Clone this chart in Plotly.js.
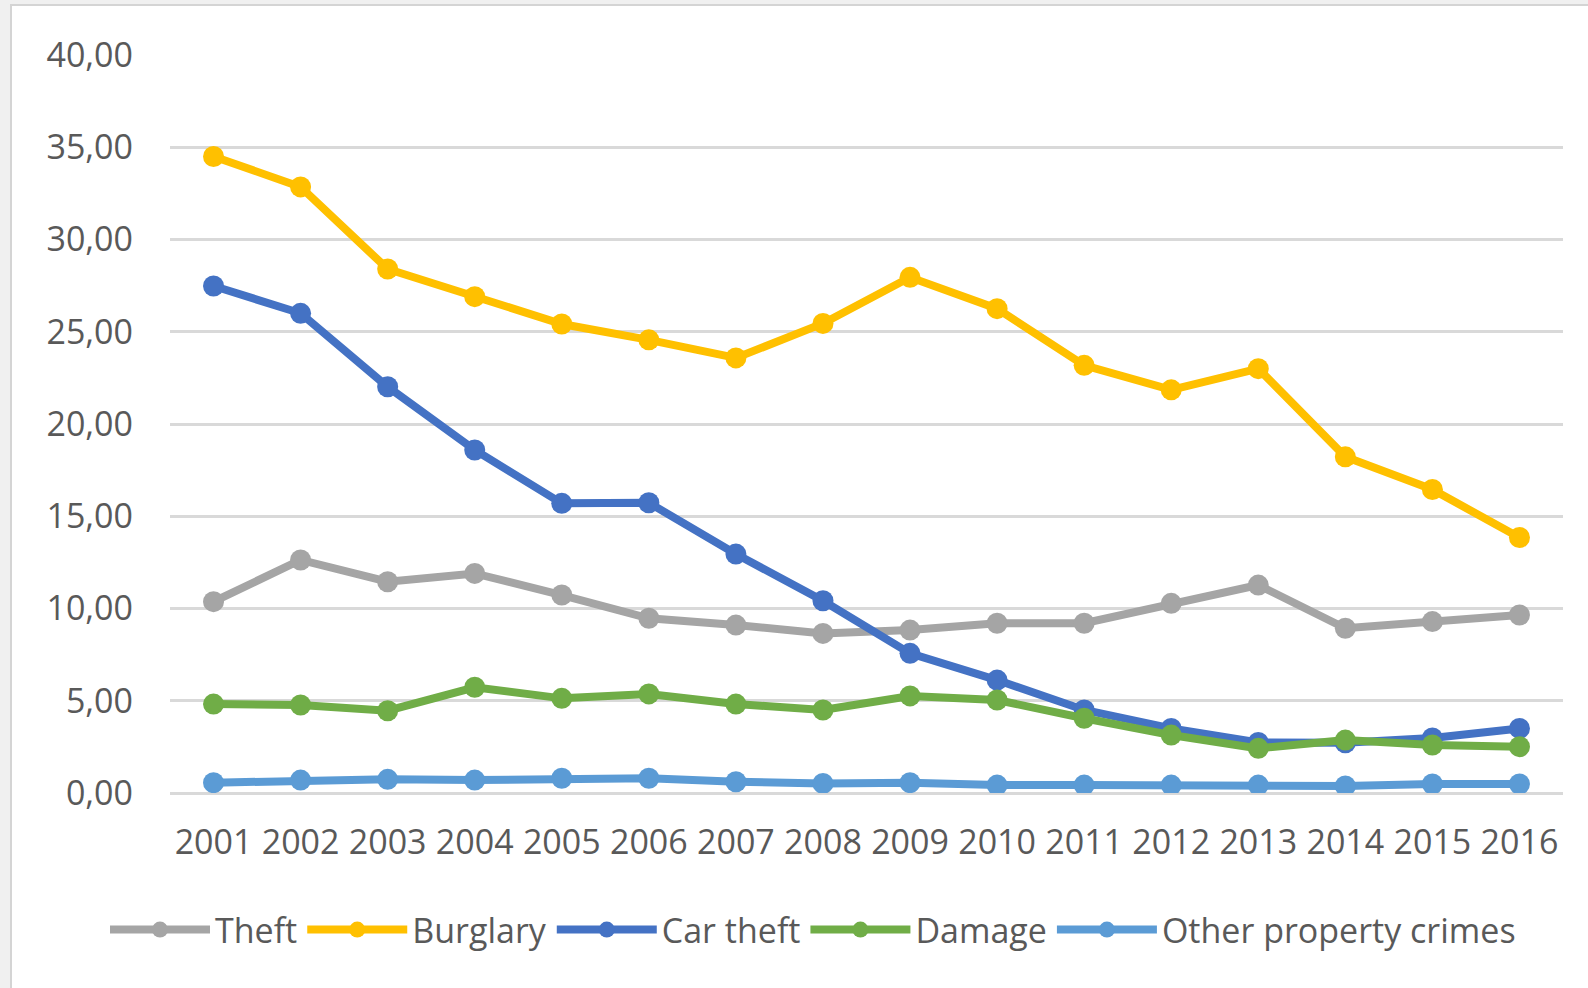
<!DOCTYPE html>
<html>
<head>
<meta charset="utf-8">
<script src="https://cdn.plot.ly/plotly-3.0.1.min.js"></script>
<style>
  html, body { margin: 0; padding: 0; background: #ffffff; }
  #chart { width: 1588px; height: 988px; }
</style>
</head>
<body>
<div id="chart"></div>
<script>
const years = ['2001','2002','2003','2004','2005','2006','2007','2008','2009','2010','2011','2012','2013','2014','2015','2016'];

const theft      = [10.37, 12.63, 11.45, 11.90, 10.73, 9.47, 9.10, 8.65, 8.83, 9.20, 9.20, 10.28, 11.27, 8.93, 9.29, 9.65];
const burglary   = [34.50, 32.85, 28.40, 26.90, 25.42, 24.56, 23.58, 25.45, 27.95, 26.25, 23.18, 21.85, 23.00, 18.22, 16.45, 13.85];
const carTheft   = [27.48, 26.00, 22.02, 18.59, 15.70, 15.73, 12.95, 10.42, 7.57, 6.12, 4.50, 3.50, 2.74, 2.72, 2.98, 3.50];
const damage     = [4.82, 4.77, 4.46, 5.73, 5.13, 5.37, 4.82, 4.50, 5.26, 5.04, 4.05, 3.14, 2.42, 2.87, 2.60, 2.51];
const otherProp  = [0.56, 0.70, 0.74, 0.70, 0.80, 0.80, 0.61, 0.52, 0.56, 0.43, 0.43, 0.43, 0.43, 0.38, 0.49, 0.49];

const seriesNames  = ['Theft', 'Burglary', 'Car theft', 'Damage', 'Other property crimes'];
const seriesValues = [theft, burglary, carTheft, damage, otherProp];
const seriesColors = ['#a5a5a5', '#ffc000', '#4472c4', '#70ad47', '#5b9bd5'];

const FONT = '"Open Sans", "Liberation Sans", sans-serif';
const TXT = '#595959';

const traces = seriesNames.map((name, i) => ({
  type: 'scatter',
  mode: 'lines+markers',
  name: name,
  x: years,
  y: seriesValues[i],
  line: { color: seriesColors[i], width: 8 },
  marker: { color: seriesColors[i], size: 21, symbol: 'circle' }
}));

// plot area in page pixels
const L = 170, R = 1563, T = 55, B = 793;
const W = R - L, H = B - T;
const px = x => (x - L) / W;
const py = y => (B - y) / H;

const layout = {
  width: 1588,
  height: 988,
  margin: { l: L, r: 1588 - R, t: T, b: 988 - B, pad: 0 },
  paper_bgcolor: '#f0f0f0',
  plot_bgcolor: 'rgba(0,0,0,0)',
  separators: ', ',
  font: { family: FONT, size: 34, color: TXT },
  showlegend: true,
  xaxis: {
    type: 'category',
    range: [-0.5, 15.5],
    showgrid: false,
    zeroline: false,
    showline: false,
    ticks: '',
    ticklabelstandoff: 26,
    tickfont: { family: FONT, size: 34, color: TXT },
    fixedrange: true
  },
  yaxis: {
    range: [0, 40],
    dtick: 5,
    tick0: 0,
    tickformat: '.2f',
    showgrid: true,
    gridcolor: '#d9d9d9',
    gridwidth: 3,
    zeroline: true,
    zerolinecolor: '#d9d9d9',
    zerolinewidth: 3,
    showline: false,
    ticks: '',
    ticklabelstandoff: 36,
    tickfont: { family: FONT, size: 34, color: TXT },
    fixedrange: true
  },
  legend: {
    orientation: 'h',
    x: px(105),
    xanchor: 'left',
    y: py(930),
    yanchor: 'middle',
    font: { family: FONT, size: 34, color: TXT },
    itemwidth: 100,
    bgcolor: 'rgba(0,0,0,0)'
  },
  shapes: [
    {
      type: 'rect', xref: 'paper', yref: 'paper', layer: 'below',
      x0: px(11), x1: px(1600), y0: py(5), y1: py(1000),
      fillcolor: '#ffffff',
      line: { color: '#d4d4d4', width: 2 }
    }
  ]
};

Plotly.newPlot('chart', traces, layout, { displayModeBar: false, staticPlot: true });
</script>
</body>
</html>
